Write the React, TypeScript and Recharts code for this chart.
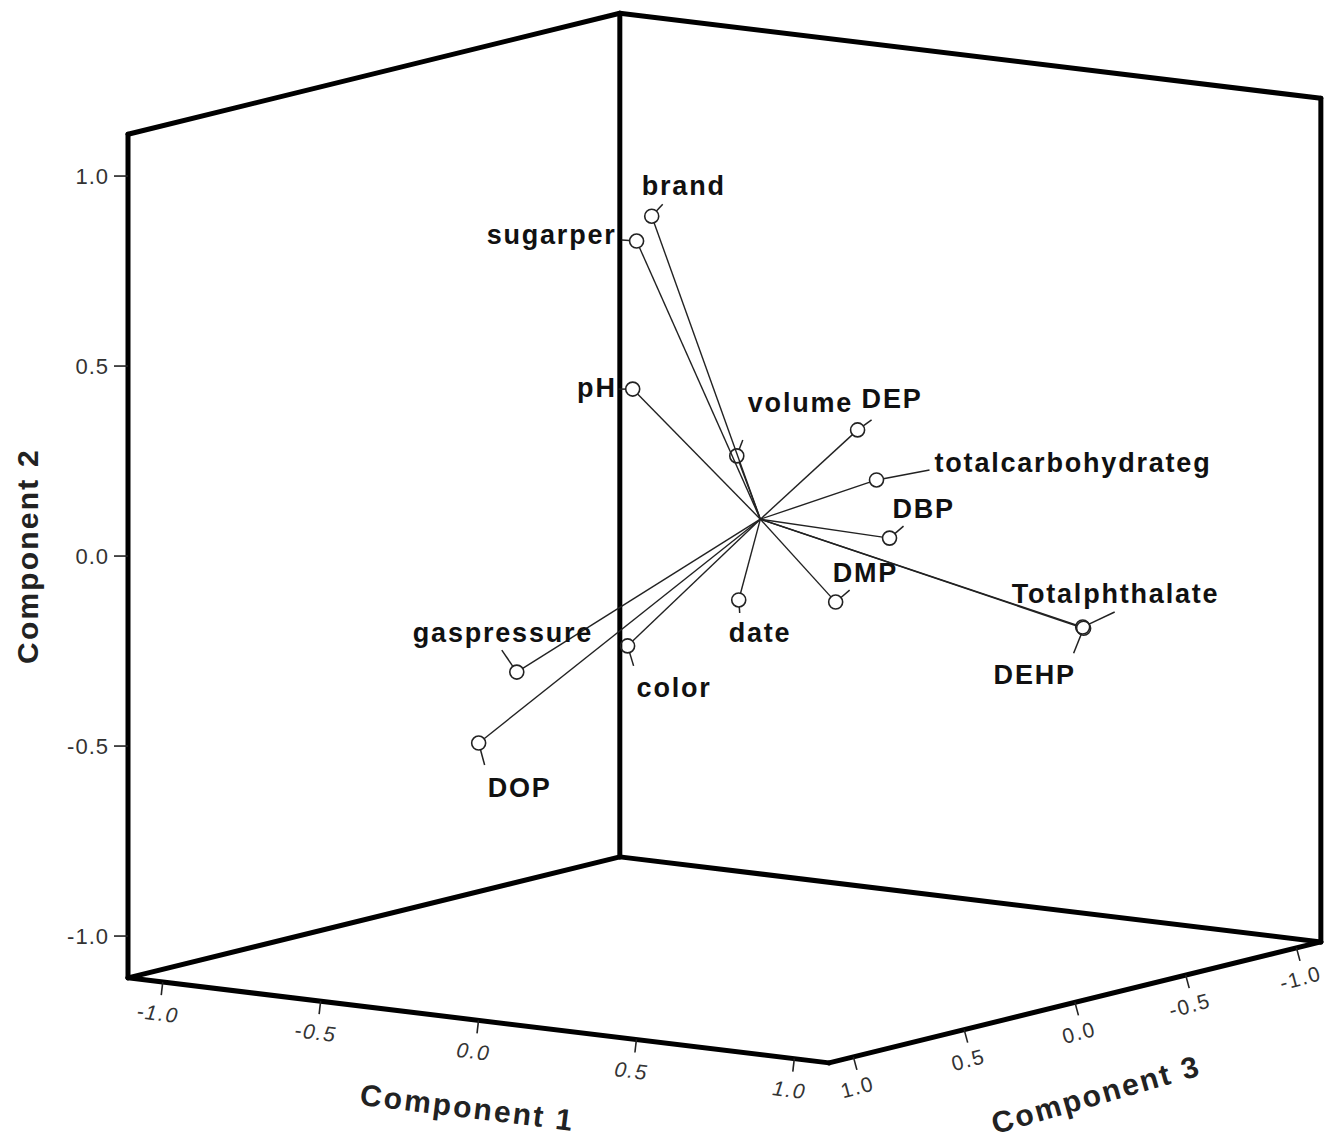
import React from "react";
import { ScatterChart, Scatter, XAxis, YAxis, ReferenceLine, ReferenceDot } from "recharts";

// rotated component loadings
const variables = [
  "brand", "sugarper", "pH", "volume", "DEP", "totalcarbohydrateg", "DBP",
  "Totalphthalate", "DEHP", "DMP", "date", "color", "gaspressure", "DOP",
];
const component1 = [-0.125, -0.208, -0.08, 0.425, 0.562, 0.657, 0.593, 0.924, 0.92, 0.247, 0.361, -0.026, -0.412, -0.638];
const component2 = [0.856, 0.775, 0.427, 0.338, 0.37, 0.255, 0.074, -0.184, -0.189, -0.165, -0.062, -0.229, -0.344, -0.575];
const component3 = [0.15, 0.1, 0.3, 0.55, 0.2, 0.25, 0.1, -0.3, -0.31, -0.15, 0.45, 0.4, 0.35, 0.2];
const axisTicks = [-1, -0.5, 0, 0.5, 1];

const FONT = "'Liberation Sans', Arial, Helvetica, sans-serif";
const W = 1334;
const H = 1140;
const AXIS_W = 128;
const PX = 380; // pixels per loading unit
const HALF = 1.11; // half size of the cube
const R = 7; // marker radius, px

// oblique view of the loading cube, expressed in component-2 units
const C1_DIR = { u: 0.831, v: -0.1008 };
const C3_DIR = { u: -0.583, v: -0.1434 };
const project = (c1: number, c2: number, c3: number) => ({
  u: C1_DIR.u * c1 + C3_DIR.u * c3,
  v: c2 + C1_DIR.v * c1 + C3_DIR.v * c3,
});

const leftEdge = project(-HALF, 0, HALF);
const U_MIN = leftEdge.u;
const U_MAX = U_MIN + (W - AXIS_W) / PX;
const V_MAX = 1.416;
const V_MIN = V_MAX - H / PX;
const C2_SHIFT = -leftEdge.v;

const points = variables.map((name, i) => ({
  name,
  ...project(component1[i], component2[i], component3[i]),
}));
const hub = {
  u: points.reduce((s, p) => s + p.u, 0) / points.length,
  v: points.reduce((s, p) => s + p.v, 0) / points.length,
};

// spikes from the centroid, stopping at the marker outline
const spikes = points.map((p) => {
  const du = p.u - hub.u;
  const dv = p.v - hub.v;
  const len = Math.hypot(du, dv);
  const k = (len - R / PX) / len;
  return [
    { x: hub.u, y: hub.v },
    { x: hub.u + du * k, y: hub.v + dv * k },
  ];
});

const corner = (a: number, b: number, c: number) => {
  const p = project(a * HALF, b * HALF, c * HALF);
  return { x: p.u, y: p.v };
};
const boxEdges = [
  [corner(-1, -1, 1), corner(1, -1, 1)],
  [corner(1, -1, 1), corner(1, -1, -1)],
  [corner(-1, -1, 1), corner(-1, -1, -1)],
  [corner(-1, -1, -1), corner(1, -1, -1)],
  [corner(-1, -1, 1), corner(-1, 1, 1)],
  [corner(-1, -1, -1), corner(-1, 1, -1)],
  [corner(1, -1, -1), corner(1, 1, -1)],
  [corner(-1, 1, 1), corner(-1, 1, -1)],
  [corner(-1, 1, -1), corner(1, 1, -1)],
];

// label placement around each marker: leader end, text origin, anchor
const LABEL_LAYOUT: Record<string, { lead: [number, number]; text: [number, number]; anchor: "start" | "end" }> = {
  brand: { lead: [11, -12], text: [-10, -21], anchor: "start" },
  sugarper: { lead: [-15, -1], text: [-20, 3], anchor: "end" },
  pH: { lead: [-14, 0], text: [-16, 8], anchor: "end" },
  volume: { lead: [6, -16], text: [11, -44], anchor: "start" },
  DEP: { lead: [14, -10], text: [4, -22], anchor: "start" },
  totalcarbohydrateg: { lead: [53, -10], text: [58, -8], anchor: "start" },
  DBP: { lead: [14, -12], text: [3, -20], anchor: "start" },
  Totalphthalate: { lead: [32, -15], text: [-71, -24], anchor: "start" },
  DEHP: { lead: [-10, 25], text: [-90, 56], anchor: "start" },
  DMP: { lead: [14, -12], text: [-3, -20], anchor: "start" },
  date: { lead: [1, 13], text: [-10, 42], anchor: "start" },
  color: { lead: [6, 20], text: [9, 51], anchor: "start" },
  gaspressure: { lead: [-15, -22], text: [-104, -30], anchor: "start" },
  DOP: { lead: [6, 22], text: [9, 54], anchor: "start" },
};

const renderPoint = (props: any) => {
  const { cx, cy, payload } = props;
  const lay = LABEL_LAYOUT[payload.name];
  const [ex, ey] = lay.lead;
  const d = Math.hypot(ex, ey);
  return (
    <g>
      <circle cx={cx} cy={cy} r={R} fill="none" stroke="#222" strokeWidth={1.6} />
      {d > R && (
        <line x1={cx + (ex / d) * R} y1={cy + (ey / d) * R} x2={cx + ex} y2={cy + ey} stroke="#222" strokeWidth={1.5} />
      )}
      <text
        x={cx + lay.text[0]}
        y={cy + lay.text[1]}
        textAnchor={lay.anchor}
        fontFamily={FONT}
        fontWeight="bold"
        fontSize={27}
        letterSpacing={1.8}
        fill="#111"
      >
        {payload.name}
      </text>
    </g>
  );
};

const tickShape = (label: string, lean: number, off: [number, number], angle: number, italic: boolean) => (p: any) => {
  const lx = p.cx + off[0];
  const ly = p.cy + off[1];
  return (
    <g>
      <line x1={p.cx} y1={p.cy} x2={p.cx + lean} y2={p.cy + 13} stroke="#222" strokeWidth={1.6} />
      <text
        x={lx}
        y={ly}
        textAnchor="middle"
        dominantBaseline="central"
        transform={`rotate(${angle} ${lx} ${ly})`}
        fontFamily={FONT}
        fontStyle={italic ? "italic" : "normal"}
        fontSize={21}
        letterSpacing={1.5}
        fill="#333"
      >
        {label}
      </text>
    </g>
  );
};

const titleShape = (title: string, off: [number, number], angle: number) => (p: any) => {
  const x = p.cx + off[0];
  const y = p.cy + off[1];
  return (
    <text
      x={x}
      y={y}
      textAnchor="middle"
      dominantBaseline="central"
      transform={`rotate(${angle} ${x} ${y})`}
      fontFamily={FONT}
      fontWeight="bold"
      fontSize={30}
      letterSpacing={2.2}
      fill="#222"
    >
      {title}
    </text>
  );
};

const fmt = (t: number) => t.toFixed(1);

export default function App() {
  const c1Anchor = project(0, -HALF, HALF);
  const c3Anchor = project(HALF, -HALF, 0);
  return (
    <div style={{ width: W, height: H, background: "#fff" }}>
      <style>{"body{margin:0}"}</style>
      <ScatterChart width={W} height={H} margin={{ top: 0, right: 0, bottom: 0, left: 0 }}>
        <XAxis type="number" dataKey="u" domain={[U_MIN, U_MAX]} hide allowDataOverflow />
        <YAxis yAxisId="v" type="number" dataKey="v" domain={[V_MIN, V_MAX]} hide allowDataOverflow />
        <YAxis
          yAxisId="c2"
          type="number"
          domain={[V_MIN + C2_SHIFT, V_MAX + C2_SHIFT]}
          allowDataOverflow
          ticks={axisTicks}
          interval={0}
          tickFormatter={fmt}
          width={AXIS_W}
          axisLine={false}
          tickSize={14}
          tickMargin={5}
          tickLine={{ stroke: "#222", strokeWidth: 1.6 }}
          tick={{ fontSize: 22, fill: "#333", fontFamily: FONT, letterSpacing: 1 }}
        />

        {boxEdges.map((seg, i) => (
          <ReferenceLine
            key={`edge-${i}`}
            yAxisId="v"
            segment={seg}
            stroke="#000"
            strokeWidth={5}
            strokeLinecap="round"
            ifOverflow="visible"
          />
        ))}

        {spikes.map((seg, i) => (
          <ReferenceLine key={`spike-${i}`} yAxisId="v" segment={seg} stroke="#222" strokeWidth={1.4} ifOverflow="visible" />
        ))}

        {axisTicks.map((t) => {
          const p = project(t, -HALF, HALF);
          return (
            <ReferenceDot
              key={`c1-${t}`}
              yAxisId="v"
              x={p.u}
              y={p.v}
              ifOverflow="visible"
              shape={tickShape(fmt(t), -1.5, [-5, 31], 7, true)}
            />
          );
        })}
        {axisTicks.map((t) => {
          const p = project(HALF, -HALF, t);
          return (
            <ReferenceDot
              key={`c3-${t}`}
              yAxisId="v"
              x={p.u}
              y={p.v}
              ifOverflow="visible"
              shape={tickShape(fmt(t), 3.5, [4, 30], -15, false)}
            />
          );
        })}

        <ReferenceDot yAxisId="v" x={leftEdge.u} y={leftEdge.v} ifOverflow="visible" shape={titleShape("Component 2", [-100, 0], -90)} />
        <ReferenceDot yAxisId="v" x={c1Anchor.u} y={c1Anchor.v} ifOverflow="visible" shape={titleShape("Component 1", [-11, 87], 7)} />
        <ReferenceDot yAxisId="v" x={c3Anchor.u} y={c3Anchor.v} ifOverflow="visible" shape={titleShape("Component 3", [21, 92], -16)} />

        <Scatter yAxisId="v" data={points} shape={renderPoint} isAnimationActive={false} />
      </ScatterChart>
    </div>
  );
}
